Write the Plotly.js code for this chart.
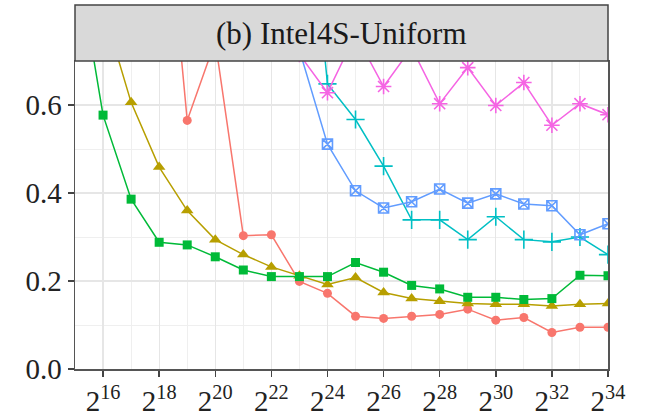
<!DOCTYPE html>
<html>
<head>
<meta charset="utf-8">
<script src="https://cdn.plot.ly/plotly-3.0.1.min.js"></script>
<style>
  html, body { margin: 0; padding: 0; background: #ffffff; }
  #chart { width: 651px; height: 414px; }
</style>
</head>
<body>
<div id="chart"></div>
<script>
// Input sizes as powers of two (exponent of 2)
const xRed     = [18, 19, 20, 21, 22, 23, 24, 25, 26, 27, 28, 29, 30, 31, 32, 33, 34];
const yRed     = [1.25, 0.565, 0.745, 0.303, 0.305, 0.199, 0.172, 0.120, 0.115, 0.120, 0.124, 0.136, 0.111, 0.117, 0.083, 0.095, 0.095];

const xOlive   = [16, 17, 18, 19, 20, 21, 22, 23, 24, 25, 26, 27, 28, 29, 30, 31, 32, 33, 34];
const yOlive   = [0.82, 0.606, 0.459, 0.360, 0.294, 0.260, 0.232, 0.212, 0.192, 0.208, 0.174, 0.160, 0.154, 0.149, 0.147, 0.147, 0.143, 0.147, 0.149];

const xGreen   = [15, 16, 17, 18, 19, 20, 21, 22, 23, 24, 25, 26, 27, 28, 29, 30, 31, 32, 33, 34];
const yGreen   = [0.96, 0.577, 0.386, 0.288, 0.282, 0.255, 0.225, 0.210, 0.210, 0.210, 0.242, 0.220, 0.190, 0.182, 0.163, 0.163, 0.158, 0.160, 0.213, 0.212];

const xCyan    = [23, 24, 25, 26, 27, 28, 29, 30, 31, 32, 33, 34];
const yCyan    = [1.30, 0.648, 0.567, 0.461, 0.339, 0.339, 0.294, 0.346, 0.294, 0.289, 0.300, 0.260];

const xBlue    = [23, 24, 25, 26, 27, 28, 29, 30, 31, 32, 33, 34];
const yBlue    = [0.725, 0.511, 0.405, 0.366, 0.380, 0.409, 0.377, 0.398, 0.375, 0.371, 0.305, 0.330];

const xMagenta = [23, 24, 25, 26, 27, 28, 29, 30, 31, 32, 33, 34];
const yMagenta = [0.715, 0.628, 0.760, 0.642, 0.730, 0.603, 0.685, 0.599, 0.651, 0.554, 0.603, 0.578];

// Axis ticks
const xTickExp    = [16, 18, 20, 22, 24, 26, 28, 30, 32, 34];
const xTickLabels = xTickExp.map(e => '2<sup>' + e + '</sup>');
const yTickVals   = [0.0, 0.2, 0.4, 0.6];
const yTickLabels = ['0.0', '0.2', '0.4', '0.6'];

const panelTitle = '(b) Intel4S-Uniform';

function series(name, x, y, color, symbol, size, open) {
  return {
    type: 'scatter', mode: 'lines+markers', name: name, x: x, y: y,
    line: { color: color, width: 1.5 },
    marker: {
      color: color, symbol: symbol, size: size,
      line: { color: color, width: open ? 1.6 : 0 }
    },
    showlegend: false, hoverinfo: 'skip'
  };
}

const traces = [
  series('A', xRed,     yRed,     '#F8766D', 'circle',          9,  false),
  series('B', xOlive,   yOlive,   '#B79F00', 'triangle-up',     11, false),
  series('C', xGreen,   yGreen,   '#00BA38', 'square',          9,  false),
  series('D', xCyan,    yCyan,    '#00BFC4', 'cross-thin-open', 13, true),
  series('E', xBlue,    yBlue,    '#619CFF', 'square-x-open',   10, true),
  series('F', xMagenta, yMagenta, '#F564E3', 'asterisk-open',   13, true)
];

const serifFamily = 'Liberation Serif, Times New Roman, serif';
const tickFont = { family: serifFamily, size: 29, color: '#222222' };
const plotH = 414 - 61 - 45;
const stripTop = 1 + 56 / plotH;

const layout = {
  width: 651, height: 414,
  margin: { l: 75, r: 43, t: 61, b: 45, pad: 0 },
  paper_bgcolor: '#ffffff', plot_bgcolor: '#ffffff',
  xaxis: {
    range: [15, 34], zeroline: false,
    tickmode: 'array', tickvals: xTickExp, ticktext: xTickLabels,
    ticks: 'outside', ticklen: 6, tickwidth: 1.5, tickcolor: '#444444',
    tickfont: tickFont,
    showline: true, linecolor: '#555555', linewidth: 1.5, mirror: true,
    showgrid: true, gridcolor: '#E6E6E6', gridwidth: 1.3,
    minor: { tickmode: 'linear', tick0: 15, dtick: 1, showgrid: true, gridcolor: '#EFEFEF', gridwidth: 1, ticks: '' }
  },
  yaxis: {
    range: [0, 0.7], zeroline: false,
    tickmode: 'array', tickvals: yTickVals, ticktext: yTickLabels,
    ticks: 'outside', ticklen: 6, tickwidth: 1.5, tickcolor: '#444444',
    tickfont: tickFont,
    showline: true, linecolor: '#555555', linewidth: 1.5, mirror: true,
    showgrid: true, gridcolor: '#E6E6E6', gridwidth: 1.3,
    minor: { tickmode: 'linear', tick0: 0.1, dtick: 0.2, showgrid: true, gridcolor: '#EFEFEF', gridwidth: 1, ticks: '' }
  },
  shapes: [{
    type: 'rect', xref: 'paper', yref: 'paper',
    x0: 0, x1: 1, y0: 1, y1: stripTop,
    fillcolor: '#D9D9D9', line: { color: '#444444', width: 1.5 }, layer: 'above'
  }],
  annotations: [{
    xref: 'paper', yref: 'paper', x: 0.5, y: (1 + stripTop) / 2,
    xanchor: 'center', yanchor: 'middle', showarrow: false,
    text: panelTitle,
    font: { family: serifFamily, size: 31, color: '#1a1a1a' }
  }]
};

Plotly.newPlot('chart', traces, layout, { displayModeBar: false, staticPlot: true });
</script>
</body>
</html>
